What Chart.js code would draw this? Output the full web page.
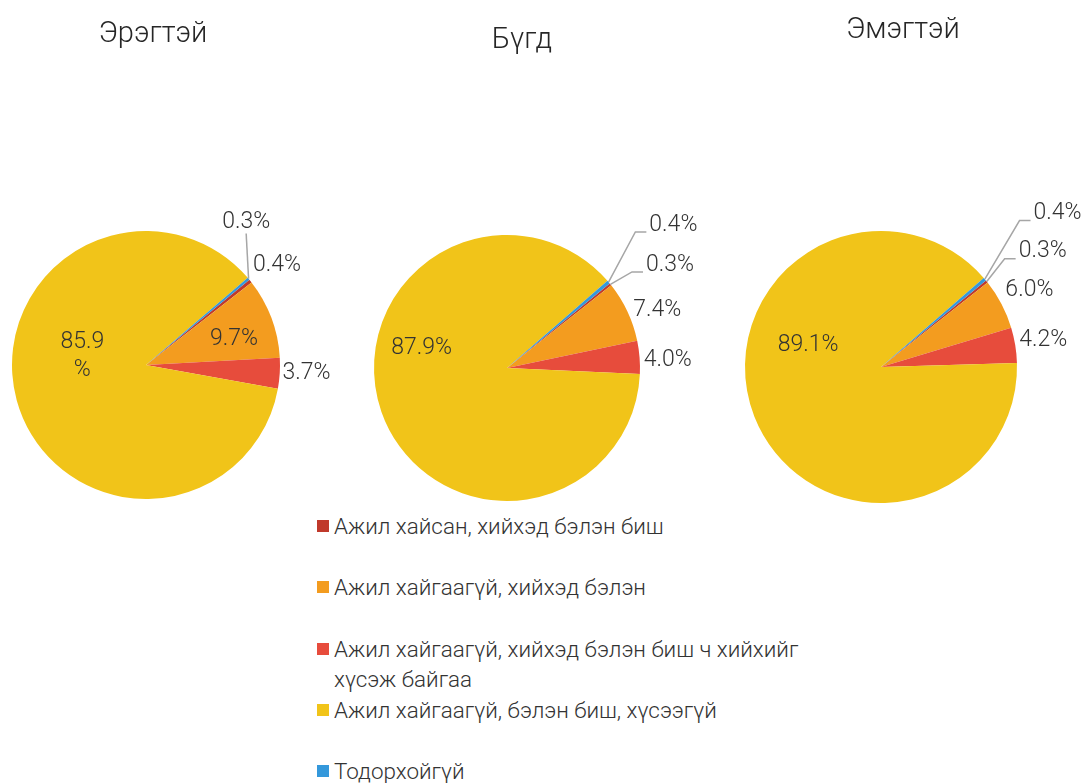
<!DOCTYPE html>
<html>
<head>
<meta charset="utf-8">
<script src="https://cdn.jsdelivr.net/npm/chart.js@4.4.0/dist/chart.umd.min.js"></script>
<style>
  html, body { margin: 0; padding: 0; background: #fff; }
  body {
    width: 1087px; height: 783px; position: relative; overflow: hidden;
    font-family: Roboto, "Noto Sans", sans-serif; font-weight: 300; color: #262626;
  }
  canvas.pie { position: absolute; left: 0; top: 0; }
  .title {
    position: absolute; font-size: 29px; line-height: 1;
    transform: translate(-50%, -50%); white-space: nowrap;
  }
  #legend { position: absolute; left: 317px; top: 511px; }
  .legend-item { display: flex; align-items: flex-start; height: 61.3px; }
  .legend-box { width: 12px; height: 12px; margin-top: 9px; flex: none; }
  .legend-text { font-size: 22.4px; line-height: 30px; margin-left: 5px; width: 485px; color: #333; }
</style>
</head>
<body>
<div id="legend"></div>
<script>
const W = 1087, H = 783;

const categories = [
  "Ажил хайсан, хийхэд бэлэн биш",
  "Ажил хайгаагүй, хийхэд бэлэн",
  "Ажил хайгаагүй, хийхэд бэлэн биш ч хийхийг хүсэж байгаа",
  "Ажил хайгаагүй, бэлэн биш, хүсээгүй",
  "Тодорхойгүй",
];
const titles = ["Эрэгтэй", "Бүгд", "Эмэгтэй"];
const menValues = [0.4, 9.7, 3.7, 85.9, 0.3];
const totalValues = [0.3, 7.4, 4.0, 87.9, 0.4];
const womenValues = [0.3, 6.0, 4.2, 89.1, 0.4];

const colors = ["#c0392b", "#f39c1f", "#e74c3c", "#f1c419", "#3498db"];

// pie placement: center x, center y, radius; title position
const layouts = [
  { cx: 146, cy: 365, r: 134, tx: 153, ty: 32 },
  { cx: 507, cy: 368, r: 133, tx: 522, ty: 38 },
  { cx: 881, cy: 367, r: 136, tx: 903, ty: 28 },
];

// label spot per slice: [angle from top (deg), distance in radii, leader, split]
const labelSpots = [
  [[52.6, 1.23], [73.5, 0.685], [92.8, 1.2], [278, 0.48, null, true], [35.1, 1.3, "down"]],
  [[57.7, 1.45, "elbow"], [68.9, 1.21], [87.2, 1.21], [283.2, 0.66], [49.3, 1.65, "elbow"]],
  [[54.5, 1.46, "elbow"], [62.5, 1.23], [80.5, 1.21], [286.8, 0.56], [49, 1.72, "elbow"]],
];

const pieLabels = {
  id: "pieLabels",
  afterDatasetsDraw(chart, args, opts) {
    const ctx = chart.ctx;
    const meta = chart.getDatasetMeta(0);
    const values = chart.data.datasets[0].data;
    ctx.save();
    ctx.font = "300 23px Roboto, 'Noto Sans', sans-serif";
    ctx.textAlign = "center";
    ctx.textBaseline = "middle";
    meta.data.forEach((arc, i) => {
      const p = arc.getProps(["x", "y", "outerRadius", "startAngle", "endAngle"], true);
      const [deg, dist, leader, split] = opts.spots[i];
      const a = (deg - 90) * Math.PI / 180;
      const tx = p.x + Math.cos(a) * dist * p.outerRadius;
      const ty = p.y + Math.sin(a) * dist * p.outerRadius;
      const text = values[i].toFixed(1) + "%";
      const w = ctx.measureText(text).width;

      if (leader) {
        const mid = (p.startAngle + p.endAngle) / 2;
        const ex = p.x + Math.cos(mid) * p.outerRadius;
        const ey = p.y + Math.sin(mid) * p.outerRadius;
        ctx.strokeStyle = "#a6a6a6";
        ctx.lineWidth = 1.5;
        ctx.beginPath();
        ctx.moveTo(ex, ey);
        if (leader === "down") {
          ctx.lineTo(tx, ty + 11);
        } else {
          const left = tx - w / 2;
          ctx.lineTo(left - 14, ty + 7);
          ctx.lineTo(left - 3, ty + 7);
        }
        ctx.stroke();
      }

      ctx.fillStyle = "#333";
      if (split) {
        ctx.fillText(values[i].toFixed(1), tx, ty - 14);
        ctx.fillText("%", tx, ty + 14);
      } else {
        ctx.fillText(text, tx, ty);
      }
    });
    ctx.restore();
  },
};

function makePie(values, lay, spots, title) {
  const canvas = document.createElement("canvas");
  canvas.className = "pie";
  canvas.width = W;
  canvas.height = H;
  document.body.appendChild(canvas);

  const t = document.createElement("div");
  t.className = "title";
  t.textContent = title;
  t.style.left = lay.tx + "px";
  t.style.top = lay.ty + "px";
  document.body.appendChild(t);

  return new Chart(canvas, {
    type: "pie",
    data: {
      labels: categories,
      datasets: [{
        data: values,
        backgroundColor: colors,
        borderWidth: 0,
      }],
    },
    options: {
      responsive: false,
      animation: false,
      rotation: 50.5,
      layout: {
        padding: {
          left: lay.cx - lay.r,
          right: W - lay.cx - lay.r,
          top: lay.cy - lay.r,
          bottom: H - lay.cy - lay.r,
        },
      },
      plugins: {
        legend: { display: false },
        tooltip: { enabled: false },
        pieLabels: { spots },
      },
    },
    plugins: [pieLabels],
  });
}

makePie(menValues, layouts[0], labelSpots[0], titles[0]);
makePie(totalValues, layouts[1], labelSpots[1], titles[1]);
makePie(womenValues, layouts[2], labelSpots[2], titles[2]);

// legend
const legend = document.getElementById("legend");
categories.forEach((name, i) => {
  const item = document.createElement("div");
  item.className = "legend-item";
  const box = document.createElement("span");
  box.className = "legend-box";
  box.style.backgroundColor = colors[i];
  const label = document.createElement("span");
  label.className = "legend-text";
  label.textContent = name;
  item.append(box, label);
  legend.append(item);
});
</script>
</body>
</html>
